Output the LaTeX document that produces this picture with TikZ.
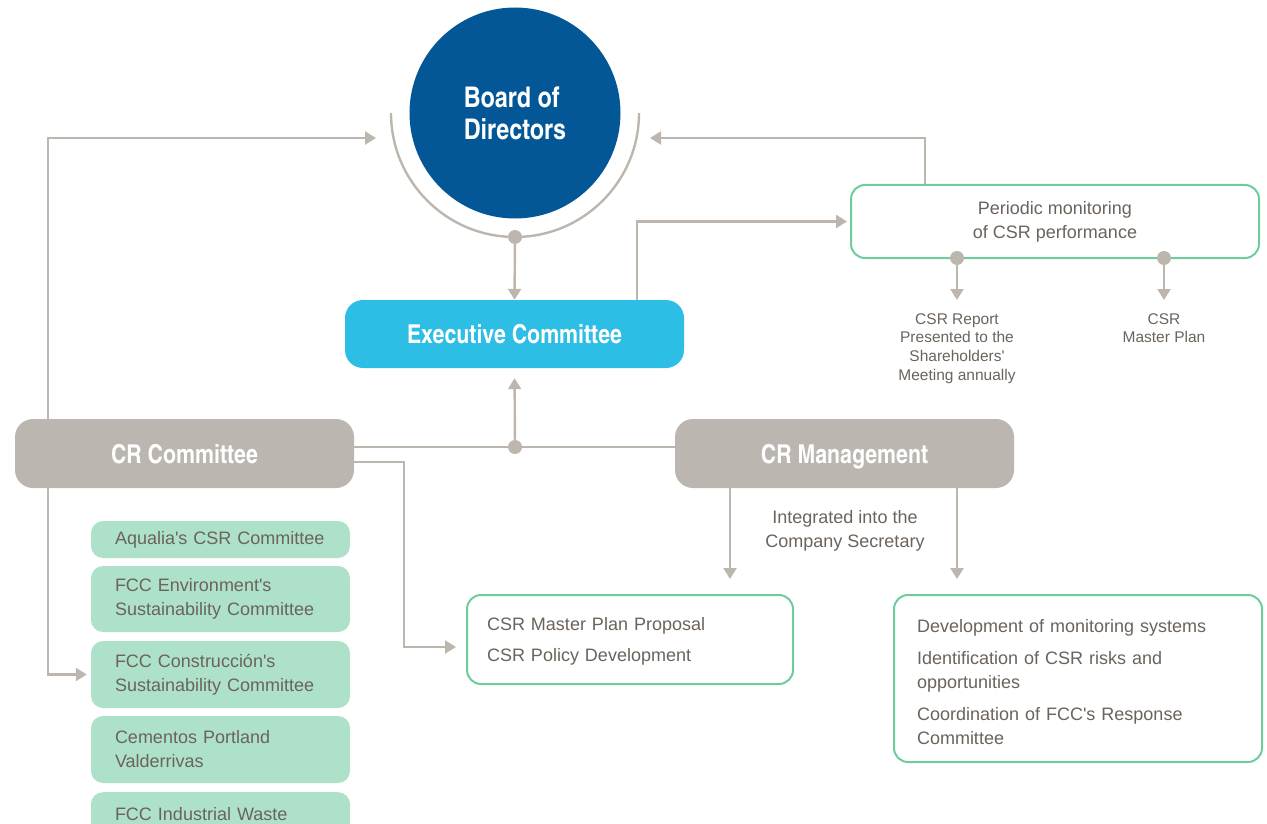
\documentclass[tikz,border=0pt]{standalone}
\usepackage{fontspec}
\setmainfont{Liberation Sans}
\newfontfamily\cond{texgyreheroscn-bold.otf}
\usetikzlibrary{arrows.meta,calc}
\definecolor{bodblue}{HTML}{035797}
\definecolor{execcyan}{HTML}{2DBEE6}
\definecolor{boxg}{HTML}{BCB6B0}
\definecolor{lineg}{HTML}{BDB6AF}
\definecolor{greenb}{HTML}{6DCC9C}
\definecolor{greenf}{HTML}{AEE1C9}
\definecolor{txt}{HTML}{6B635C}
\newcommand{\q}{\textquotesingle}
\begin{document}
\begin{tikzpicture}[x=1pt,y=-1pt,
  ln/.style={draw=lineg, line width=2.4pt},
  arr/.style={ln, -{Triangle[length=11pt,width=13pt]}},
  dot/.style={circle, fill=lineg, inner sep=0pt, minimum size=14pt},
  title/.style={text=white, inner sep=0pt, font=\cond\fontsize{26}{30}\selectfont},
  greybox/.style={title, fill=boxg, rounded corners=18pt, minimum width=339pt, minimum height=69pt, text height=22pt, text depth=3pt},
  outbox/.style={draw=greenb, line width=2pt, fill=white, rounded corners=14pt, inner ysep=0pt, text=txt, font=\fontsize{18}{24}\selectfont, align=left},
  subbox/.style={fill=greenf, rounded corners=12pt, inner xsep=24pt, inner ysep=0pt, text width=211pt, text=txt, font=\fontsize{18}{24}\selectfont, align=left},
  small/.style={text=txt, inner sep=0pt, font=\fontsize{15.5}{18.7}\selectfont, align=center},
  mid/.style={text=txt, inner sep=0pt, font=\fontsize{18}{24}\selectfont, align=center}]
\useasboundingbox (0,0) rectangle (1267,824);
% board
\node[circle, fill=bodblue, minimum size=211pt, inner sep=0pt, title, align=left, font=\cond\fontsize{28.5}{32}\selectfont] (board) at (515,113) {Board of\\Directors};
\draw[ln] (391,113) arc[start angle=180, end angle=360, radius=124pt];
\node[dot] (bdot) at (515,237) {};
% main boxes
\node[title, fill=execcyan, rounded corners=18pt, minimum width=339pt, minimum height=68pt, text height=22pt, text depth=3pt] (exec) at (514.5,334) {Executive Committee};
\node[greybox] (crc) at (184.5,453.5) {CR Committee};
\node[greybox] (crm) at (844.5,453.5) {CR Management};
\node[outbox, minimum width=408pt, minimum height=73pt, align=center, inner xsep=0pt] (per) at (1055,221.5) {Periodic monitoring\\of CSR performance};
\node[outbox, inner xsep=20pt, text width=286pt, minimum height=89pt] (prop) at (630,639.5) {\vphantom{X}\\[-20pt]CSR Master Plan Proposal\\[7pt]CSR Policy Development};
\node[outbox, inner xsep=23pt, text width=322pt, minimum height=167pt] (dev) at (1078,678.5) {\vphantom{X}\\[-16pt]Development of monitoring systems\\[8pt]Identification of CSR risks and\\opportunities\\[8pt]Coordination of FCC\q s Response\\Committee};
% sub committees
\node[subbox, minimum height=37pt] (s1) at (220.5,539.5) {Aqualia\q s CSR Committee};
\node[subbox, minimum height=66pt] (s2) at (220.5,599) {FCC Environment\q s\\Sustainability Committee};
\node[subbox, minimum height=67pt] (s3) at (220.5,674.5) {FCC Construcción\q s\\Sustainability Committee};
\node[subbox, minimum height=67pt] (s4) at (220.5,749.5) {Cementos Portland\\Valderrivas};
\node[subbox, minimum height=67pt, anchor=north] (s5) at (220.5,792) {FCC Industrial Waste\\\phantom{X}};
% small texts
\node[small, anchor=north] (rep) at (957,313) {CSR Report\\Presented to the\\Shareholders\q\\Meeting annually};
\node[small, anchor=north] (mp) at (1164,313) {CSR\\Master Plan};
\node[mid] (integ) at (845,531) {Integrated into the\\Company Secretary};
% coordinates
\coordinate (lx) at (48,0);
\coordinate (bL) at (376,138);
\coordinate (bR) at (650,138);
\coordinate (ex) at (637,0);
\coordinate (px) at (925,0);
\coordinate (jb) at (404,647);
\coordinate (a1) at (730,0);
\coordinate (a2) at (957,0);
\node[dot] (jdot) at (515,447) {};
\node[dot] (d1) at (957,258) {};
\node[dot] (d2) at (1164,258) {};
% connectors
\draw[arr] (bdot.center) -- (exec.north);
\draw[ln] ($(crc.east)+(0,-6.5)$) -- ($(crm.west)+(0,-6.5)$);
\draw[arr, shorten >=10pt] (jdot.center) -- (exec.south);
\draw[arr] (crc.north -| lx) |- (bL);
\draw[arr, shorten >=4pt] (crc.south -| lx) |- (s3.west);
\draw[arr, shorten >=10pt] ($(crc.east)+(0,8.5)$) -| (jb) -- (jb -| prop.west);
\draw[arr, shorten >=3pt] (exec.north -| ex) |- (per.west);
\draw[arr] (per.north -| px) |- (bR);
\draw[arr, shorten >=13pt] (d1.center) -- (rep.north);
\draw[arr, shorten >=13pt] (d2.center) -- (mp.north);
\draw[arr, shorten >=15pt] (crm.south -| a1) -- (prop.north -| a1);
\draw[arr, shorten >=15pt] (crm.south -| a2) -- (dev.north -| a2);
\end{tikzpicture}
\end{document}
